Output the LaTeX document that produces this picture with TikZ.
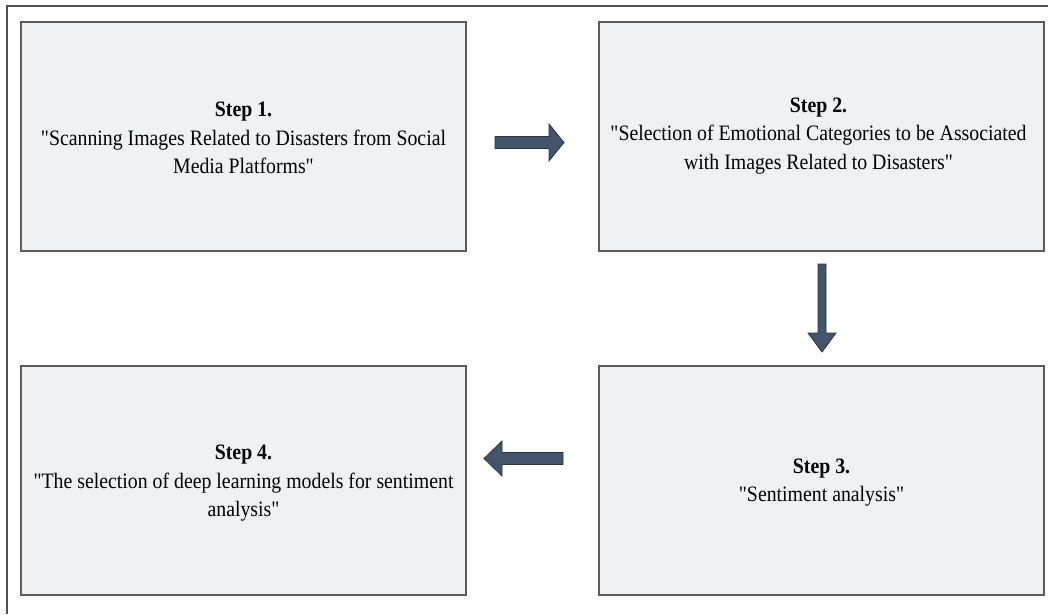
\documentclass[tikz,border=0pt]{standalone}
\usepackage{fontspec}
\setmainfont{Liberation Serif}[FakeStretch=0.9, Ligatures=TeXOff]
\definecolor{boxfill}{HTML}{EFF1F3}
\definecolor{boxedge}{HTML}{5C5C5C}
\definecolor{arrowfill}{HTML}{44546A}
\definecolor{arrowedge}{HTML}{2C3643}
\definecolor{frameedge}{HTML}{505050}
\tikzset{
  stepbox/.style={rectangle, draw=boxedge, line width=2pt, fill=boxfill,
    minimum width=445pt, minimum height=229pt, inner sep=0pt},
  steptext/.style={align=center, font=\fontsize{22}{28.5}\selectfont},
  blockarrow/.style={fill=arrowfill, draw=arrowedge, line width=0.8pt, line join=miter},
  frameline/.style={draw=frameedge, line width=1.5pt}
}
\begin{document}
\begin{tikzpicture}[x=1pt, y=-1pt]
\useasboundingbox (0,0) rectangle (1048,614);
\fill[white] (0,0) rectangle (1048,614);
\draw[frameline] (7,614) -- (7,6) -- (1048,6);

\node[stepbox] (s1) at (243.5,136) {};
\node[stepbox] (s2) at (821.5,136) {};
\node[stepbox] (s3) at (821.5,480.5) {};
\node[stepbox] (s4) at (243.5,480.5) {};

\node[steptext] (t1) at ([yshift=-2pt]s1.center) {\textbf{Step 1.}\\"Scanning Images Related to Disasters from Social\\Media Platforms"};
\node[steptext] (t2) at ([xshift=-3pt]s2.center) {\textbf{Step 2.}\\"Selection of Emotional Categories to be Associated\\with Images Related to Disasters"};
\node[steptext] (t3) at ([yshift=-2pt]s3.center) {\textbf{Step 3.}\\"Sentiment analysis"};
\node[steptext] (t4) at ([yshift=-3pt]s4.center) {\textbf{Step 4.}\\"The selection of deep learning models for sentiment\\analysis"};

\coordinate (a1) at (495,136.5);
\coordinate (a2) at (818,264);
\coordinate (a3) at (563,452.5);

\draw[blockarrow] (a1) -- ++(54,0) -- ++(0,-12.5) -- ++(15,18.5) -- ++(-15,18.5) -- ++(0,-12.5) -- ++(-54,0) -- cycle;
\draw[blockarrow] (a2) -- ++(8,0) -- ++(0,69) -- ++(10,0) -- ++(-14,19) -- ++(-14,-19) -- ++(10,0) -- cycle;
\draw[blockarrow] (a3) -- ++(-61,0) -- ++(0,-11.5) -- ++(-18,17.5) -- ++(18,17.5) -- ++(0,-11.5) -- ++(61,0) -- cycle;
\end{tikzpicture}
\end{document}
